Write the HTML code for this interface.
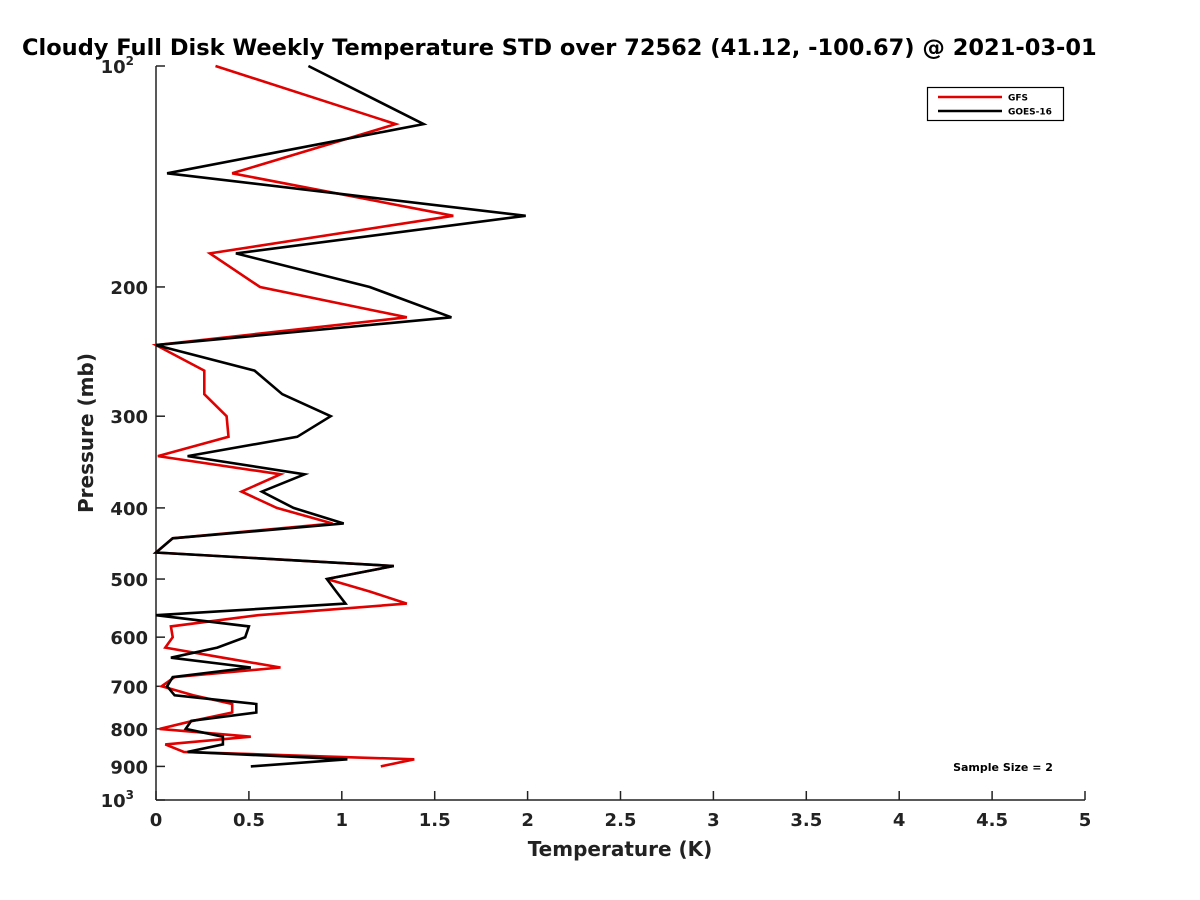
<!DOCTYPE html>
<html><head><meta charset="utf-8"><style>
body{margin:0;background:#fff;}
svg{display:block;font-family:"DejaVu Sans","Liberation Sans",sans-serif;font-weight:bold;}
</style></head><body>
<svg id="chart" width="1200" height="900" viewBox="0 0 1200 900">
<text x="22" y="55" font-size="22.5" fill="#000">Cloudy Full Disk Weekly Temperature STD over 72562 (41.12, -100.67) @ 2021-03-01</text>
<g id="axes"></g>
<g id="series"></g>
<g>
<rect x="927.5" y="87.5" width="136" height="33" fill="#fff" stroke="#000" stroke-width="1.2"/>
<line x1="938" y1="97" x2="1002" y2="97" stroke="#e00000" stroke-width="2.5"/>
<text x="1008" y="100.5" font-size="9">GFS</text>
<line x1="938" y1="111" x2="1002" y2="111" stroke="#000" stroke-width="2.5"/>
<text x="1008" y="114.5" font-size="9">GOES-16</text>
</g>
<text x="1003" y="771" font-size="11" text-anchor="middle">Sample Size = 2</text>
<text x="620" y="856" font-size="20" text-anchor="middle" fill="#222">Temperature (K)</text>
<text x="0" y="0" font-size="20" text-anchor="middle" fill="#222" transform="translate(93,433) rotate(-90)">Pressure (mb)</text>
</svg>
<script>
const pressures = [100,120,140,160,180,200,220,240,260,280,300,320,340,360,380,400,420,440,460,480,500,520,540,560,580,600,620,640,660,680,700,720,740,760,780,800,820,840,860,880,900];
const goesValues = [0.82,1.44,0.06,1.99,0.43,1.15,1.59,0.0,0.53,0.68,0.94,0.76,0.17,0.80,0.57,0.74,1.01,0.09,0.0,1.28,0.92,0.97,1.02,0.0,0.50,0.48,0.33,0.08,0.51,0.09,0.06,0.10,0.54,0.54,0.19,0.16,0.36,0.36,0.17,1.03,0.51];
const gfsValues = [0.32,1.29,0.41,1.60,0.29,0.56,1.35,0.0,0.26,0.26,0.38,0.39,0.01,0.67,0.46,0.65,0.95,0.09,0.0,1.28,0.92,1.15,1.35,0.55,0.08,0.09,0.05,0.36,0.67,0.10,0.03,0.20,0.41,0.41,0.20,0.02,0.51,0.05,0.15,1.39,1.21];
const xTicks = [0,0.5,1,1.5,2,2.5,3,3.5,4,4.5,5];
const xTickLabels = ["0","0.5","1","1.5","2","2.5","3","3.5","4","4.5","5"];
const yTicks = [100,200,300,400,500,600,700,800,900,1000];
const yTickLabels = ["10²","200","300","400","500","600","700","800","900","10³"];

const L=156,R=1085,T=66,B=800;
const xScale=v=>L+(v/5)*(R-L);
const yScale=p=>T+(Math.log10(p)-2)*(B-T);
const NS="http://www.w3.org/2000/svg";
const axes=document.getElementById('axes');
function mk(tag,attrs,parent){const e=document.createElementNS(NS,tag);for(const k in attrs)e.setAttribute(k,attrs[k]);parent.appendChild(e);return e;}
let ax=mk('line',{x1:L,y1:B,x2:R,y2:B,stroke:'#222','stroke-width':1.5},axes);


let ay=mk('line',{x1:L,y1:T,x2:L,y2:B,stroke:'#222','stroke-width':1.5},axes);


xTicks.forEach((v,i)=>{
  const x=xScale(v);
  const t=mk('line',{x1:x,y1:B,x2:x,y2:B-9,stroke:'#222','stroke-width':1.5},axes);
  
  
  const lb=mk('text',{x:x,y:B+26,'font-size':18,'text-anchor':'middle',fill:'#222'},axes);
  lb.textContent=xTickLabels[i];
  
  
});
yTicks.forEach((p,i)=>{
  const y=yScale(p);
  const t=mk('line',{x1:L,y1:y,x2:L+9,y2:y,stroke:'#222','stroke-width':1.5},axes);
  
  
  const lb=mk('text',{x:L-8,y:y+7,'font-size':18,'text-anchor':'end',fill:'#222'},axes);
  const s=yTickLabels[i];
  if(s.startsWith('10')&&s.length===3){
    lb.textContent='10';
    const sup=mk('tspan',{'font-size':12,dy:-8},lb);
    sup.textContent=s==='10²'?'2':'3';
    lb.setAttribute('x',L-22);
  } else lb.textContent=s;
  
  
});
const series=document.getElementById('series');
function drawLine(vals,color,name){
  const pts=vals.map((v,i)=>xScale(v).toFixed(1)+','+yScale(pressures[i]).toFixed(1)).join(' ');
  const pl=mk('polyline',{points:pts,fill:'none',stroke:color,'stroke-width':2.6,'stroke-linejoin':'miter'},series);
  
  
}
drawLine(gfsValues,'#e00000','gfs-line');
drawLine(goesValues,'#000000','goes16-line');
</script>
</body></html>
